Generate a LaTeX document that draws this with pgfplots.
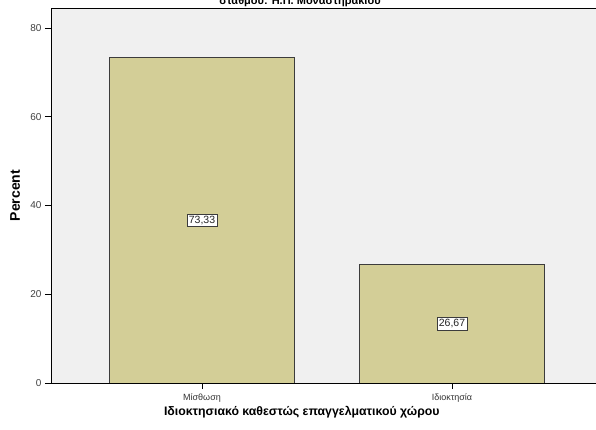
\documentclass[border=0pt]{standalone}
\usepackage{pgfplots}
\pgfplotsset{compat=1.18}
\usepackage{fontspec}
\setmainfont{Liberation Sans}
\definecolor{bggray}{RGB}{240,240,240}
\definecolor{barfill}{RGB}{211,206,151}
\definecolor{baredge}{RGB}{60,60,60}
\begin{document}
\begin{tikzpicture}
\path[use as bounding box, clip] (0bp,0bp) rectangle (596bp,430bp);
% title, cut off at the top as in the source
\node[anchor=base, font=\bfseries\fontsize{11bp}{13bp}\selectfont] at (300bp,425bp) {σταθμού: Η.Π. Μοναστηρακίου};
\begin{axis}[
    at={(51bp,47bp)}, anchor=south west,
    scale only axis,
    width=550bp, height=375bp,
    xmin=-0.604, xmax=1.596,
    ymin=0, ymax=84.5,
    axis background/.style={fill=bggray},
    axis line style={black, line width=0.8pt},
    axis on top,
    xtick={0,1},
    xticklabels={Μίσθωση, Ιδιοκτησία},
    xtick pos=bottom, ytick pos=left,
    ytick={0,20,40,60,80},
    tick align=outside,
    major tick length=6bp,
    tick style={black, line width=0.6pt},
    /pgf/number format/assume math mode=true,
    yticklabel style={font=\fontsize{10bp}{12bp}\selectfont, text=black!75},
    xticklabel style={font=\fontsize{9bp}{11bp}\selectfont, text=black!80, yshift=-1bp},
    ylabel={\textbf{Percent}},
    ylabel style={font=\fontsize{14bp}{16bp}\selectfont, at={(axis description cs:-0.05,0.5)}},
    xlabel={\textbf{Ιδιοκτησιακό καθεστώς επαγγελματικού χώρου}},
    xlabel style={font=\fontsize{12.3bp}{14bp}\selectfont, at={(axis description cs:0.456,0)}, anchor=north, yshift=-20bp},
]
\addplot[ybar, bar width=0.74, fill=barfill, draw=baredge, line width=0.8pt]
    coordinates {(0,73.33) (1,26.67)};
\addplot[draw=none, mark=none, nodes near coords, point meta=explicit symbolic,
    nodes near coords align=center,
    every node near coord/.append style={fill=white, draw=baredge, line width=0.6pt,
        inner sep=2bp, font=\fontsize{10.5bp}{12bp}\selectfont, text=black!85}]
    table[meta=label] {
x y label
0 36.665 73,33
1 13.335 26,67
};
\end{axis}
\end{tikzpicture}
\end{document}
